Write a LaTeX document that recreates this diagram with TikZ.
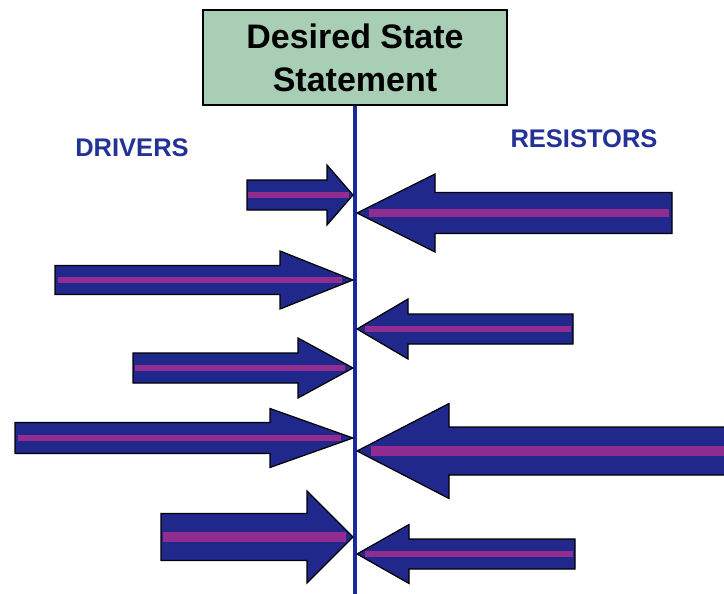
\documentclass[tikz,border=0pt]{standalone}
\usepackage{fontspec}
\setmainfont{Liberation Sans}
\usetikzlibrary{calc,positioning}

\definecolor{forceblue}{RGB}{32,40,140}
\definecolor{forcestripe}{RGB}{145,45,145}
\definecolor{axisblue}{RGB}{24,42,160}
\definecolor{labelblue}{RGB}{34,50,150}
\definecolor{goalgreen}{RGB}{168,206,182}

\tikzset{
  force/.style={fill=forceblue,draw=black,line width=1.2pt,line join=miter},
  stripe/.style={draw=forcestripe,line cap=butt},
  goal/.style={draw=black,line width=1.5pt,fill=goalgreen,minimum width=304pt,
    minimum height=95pt,inner sep=0pt,align=center,
    font=\fontsize{34}{43}\selectfont\bfseries},
  side/.style={text=labelblue,inner sep=0pt,anchor=base,
    font=\fontsize{25.5}{28}\selectfont\bfseries}
}

% tip, length to tail, head length, shaft half width, head half width
\newcommand{\forcearrow}[5]{%
  \filldraw[force] (#1) -- ++(#3,#5) -- ++(0,{(#4)-(#5)}) -- ++({(#2)-(#3)},0)
    -- ++(0,{-2*(#4)}) -- ++({(#3)-(#2)},0) -- ++(0,{(#4)-(#5)}) -- cycle;
  \draw[stripe,line width={0.42*(#4)*1pt}] ($(#1)+({0.99*(#2)},0)$)
    -- ($(#1)+({0.15*(#3)},0)$);
}

\begin{document}
\begin{tikzpicture}[x=1pt,y=-1pt]
  \fill[white] (0,0) rectangle (724,594);
  \useasboundingbox (0,0) rectangle (724,594);
  \clip (0,0) rectangle (724,594);

  \node[goal] (goal) at (355,57.5) {Desired State\\Statement};
  \node[side] (drivers) at (132,157) {DRIVERS};
  \node[side] (resistors) at (584,148) {RESISTORS};

  \coordinate (base) at (355,600);
  \draw[axisblue,line width=4pt] (goal.south) -- (base);

  % arrow tips on the line
  \coordinate (drv1) at (353,195);
  \coordinate (drv2) at (353,280);
  \coordinate (drv3) at (353,368);
  \coordinate (drv4) at (353,438);
  \coordinate (drv5) at (353,537);
  \coordinate (res1) at (357,213);
  \coordinate (res2) at (357,329);
  \coordinate (res3) at (357,451);
  \coordinate (res4) at (357,554);

  \forcearrow{drv1}{-106}{-26}{15}{30}
  \forcearrow{drv2}{-298}{-73}{14.5}{29}
  \forcearrow{drv3}{-220}{-55}{15}{30}
  \forcearrow{drv4}{-338}{-83}{15.5}{29.5}
  \forcearrow{drv5}{-192}{-46}{23.5}{46}
  \forcearrow{res1}{315}{78}{20.5}{39}
  \forcearrow{res2}{216}{51}{15}{30}
  \forcearrow{res3}{380}{92}{24}{47.5}
  \forcearrow{res4}{218}{52}{15}{29.5}
\end{tikzpicture}
\end{document}
